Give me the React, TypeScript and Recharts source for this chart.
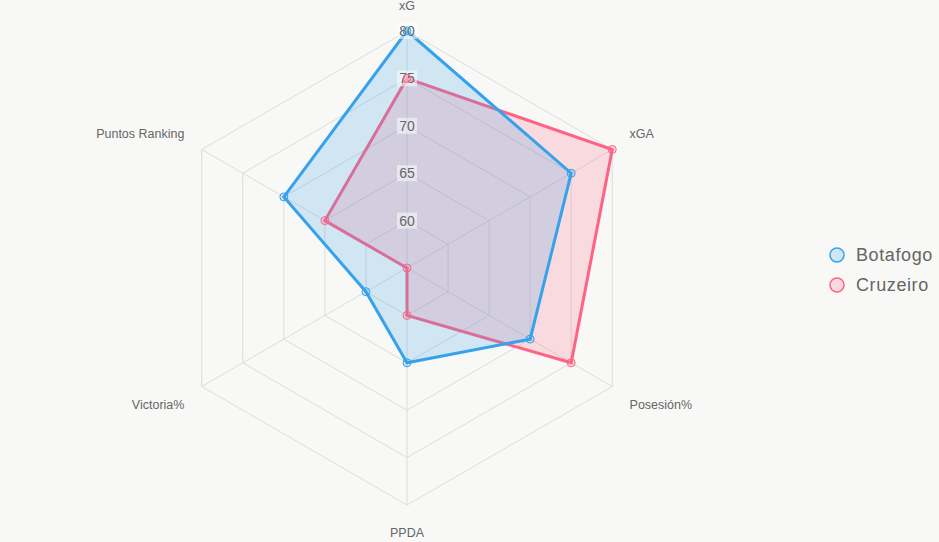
import React from 'react';
import { RadarChart, Radar, PolarGrid, PolarAngleAxis, PolarRadiusAxis, Legend } from 'recharts';

const categories = ['xG', 'xGA', 'Posesión%', 'PPDA', 'Victoria%', 'Puntos Ranking'];
const botafogo = [80, 75, 70, 65, 60, 70];
const cruzeiro = [75, 80, 75, 60, 55, 65];
const radiusTicks = [55, 60, 65, 70, 75, 80];

const BLUE = '#36a2eb';
const PINK = '#ff6384';
const FONT = '"Liberation Sans", Arial, Helvetica, sans-serif';

const data = categories.map((c, i) => ({ subject: c, Botafogo: botafogo[i], Cruzeiro: cruzeiro[i] }));

const RadiusTick = (props: any) => {
  const { x, y, payload } = props;
  if (payload.value === radiusTicks[0]) return null;
  const label = String(payload.value);
  const w = label.length * 8 + 4;
  return (
    <g>
      <rect x={x - w / 2} y={y - 8} width={w} height={16} fill="rgba(255,255,255,0.5)" />
      <text x={x} y={y + 5} textAnchor="middle" fill="#666" fontSize={14} fontFamily={FONT}>{label}</text>
    </g>
  );
};

const AngleTick = (props: any) => {
  const { x, y, payload } = props;
  const a = (payload.coordinate * Math.PI) / 180;
  const c = Math.cos(a);
  const s = Math.sin(a);
  const px = x + 12 * c;
  const py = y - 11 * s;
  const anchor = c > 0.01 ? 'start' : c < -0.01 ? 'end' : 'middle';
  const ty = s > 0.01 ? py - 2.5 : s < -0.01 ? py + 12.5 : py + 4;
  return (
    <text x={px} y={ty} textAnchor={anchor} fill="#666" fontSize={12.5} fontFamily={FONT}>
      {payload.value}
    </text>
  );
};

const LegendContent = () => {
  const items = [
    { name: 'Botafogo', color: BLUE },
    { name: 'Cruzeiro', color: PINK },
  ];
  return (
    <div style={{ fontFamily: FONT }}>
      {items.map((it) => (
        <div key={it.name} style={{ display: 'flex', alignItems: 'center', height: 30 }}>
          <svg width={18} height={18} style={{ marginRight: 10 }}>
            <circle cx={9} cy={9} r={7} fill={it.color} fillOpacity={0.2} stroke={it.color} strokeWidth={1.5} />
          </svg>
          <span style={{ color: '#666', fontSize: 18, letterSpacing: 0.6 }}>{it.name}</span>
        </div>
      ))}
    </div>
  );
};

export default function App() {
  return (
    <div style={{ position: 'absolute', left: 0, top: 0, width: 939, height: 542, background: '#f8f8f6' }}>
      <RadarChart width={939} height={542} data={data} cx={407} cy={268} outerRadius={237} startAngle={90} endAngle={-270}>
        <PolarGrid gridType="polygon" stroke="#dcdcdc" />
        <PolarAngleAxis dataKey="subject" tick={<AngleTick />} tickLine={false} axisLine={false} />
        <PolarRadiusAxis angle={90} domain={[55, 80]} ticks={radiusTicks} tickCount={6} tick={<RadiusTick />} axisLine={false} tickLine={false} />
        <Radar
          name="Cruzeiro"
          dataKey="Cruzeiro"
          stroke={PINK}
          strokeWidth={3}
          fill={PINK}
          fillOpacity={0.2}
          dot={{ r: 4, fill: 'rgba(255,99,132,0.2)', stroke: PINK, strokeWidth: 1, fillOpacity: 1 }}
          isAnimationActive={false}
        />
        <Radar
          name="Botafogo"
          dataKey="Botafogo"
          stroke={BLUE}
          strokeWidth={3}
          fill={BLUE}
          fillOpacity={0.2}
          dot={{ r: 4, fill: 'rgba(54,162,235,0.2)', stroke: BLUE, strokeWidth: 1, fillOpacity: 1 }}
          isAnimationActive={false}
        />
        <Legend content={<LegendContent />} wrapperStyle={{ position: 'absolute', left: 828, top: 240, width: 111 }} />
      </RadarChart>
    </div>
  );
}
